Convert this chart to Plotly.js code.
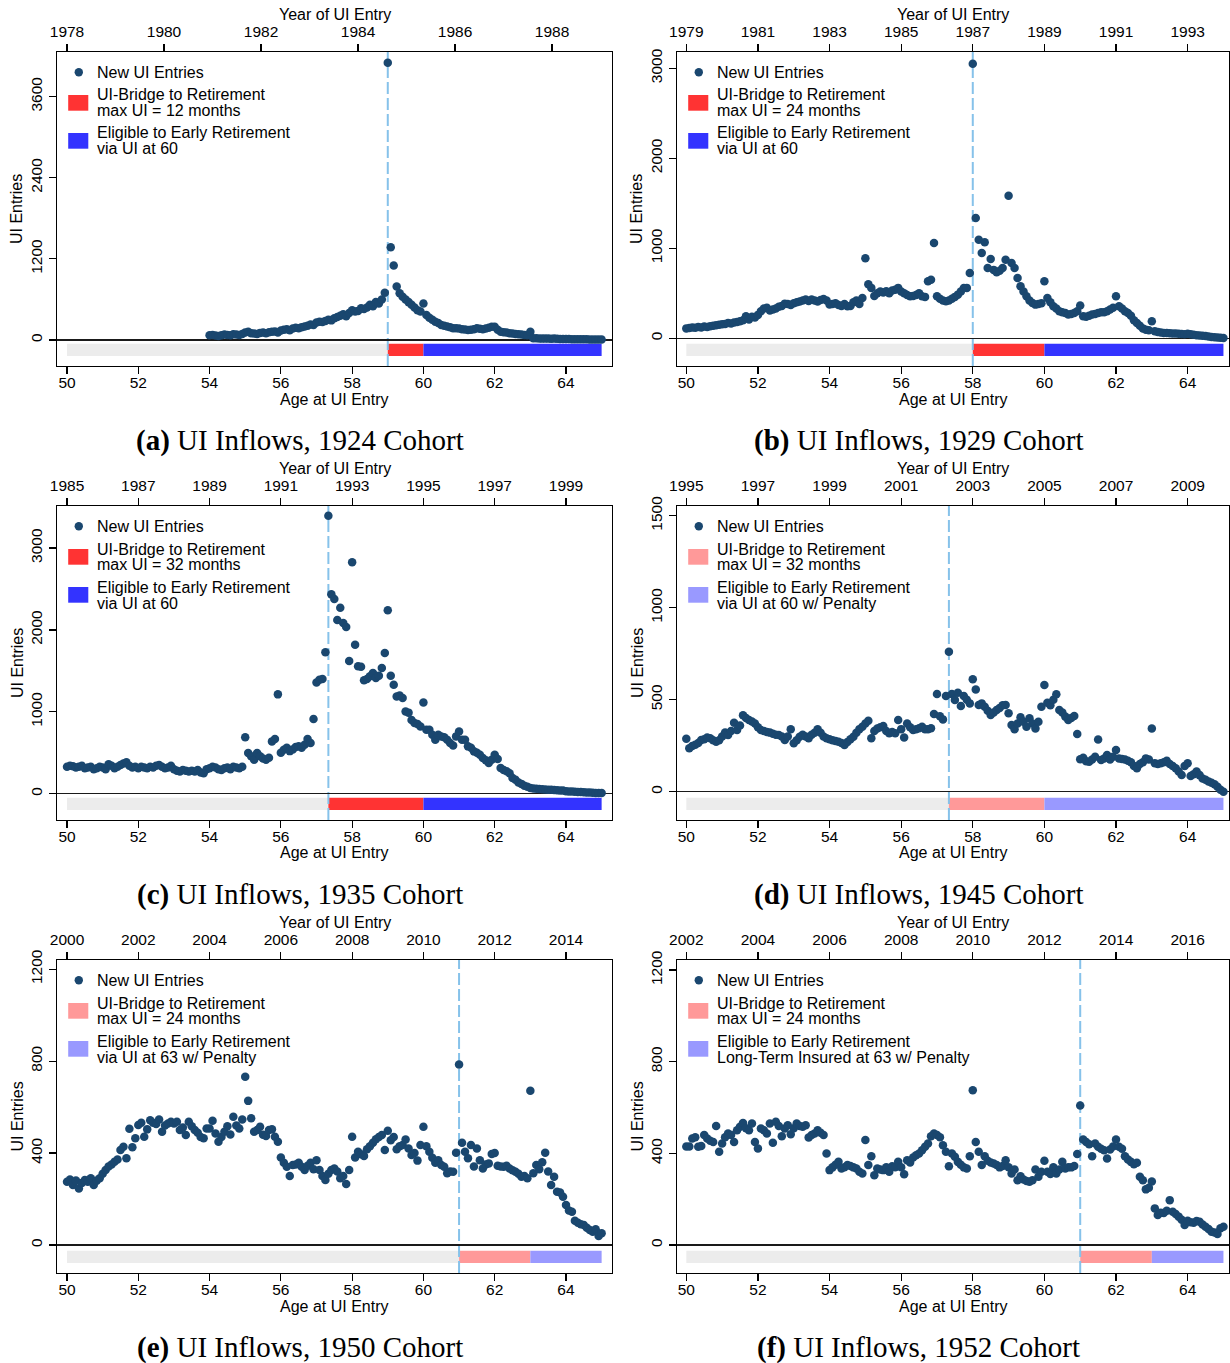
<!DOCTYPE html>
<html>
<head>
<meta charset="utf-8">
<script src="https://cdn.plot.ly/plotly-3.0.1.min.js"></script>
<style>
  html, body { margin: 0; padding: 0; background: #ffffff; }
  #chart { width: 1230px; height: 1363px; }
</style>
</head>
<body>
<div id="chart"></div>
<script>
// Monthly new UI entries by age at entry, one array per birth cohort.
// Each array starts at its cohort's first observed age and steps one month.

const ageStart1924 = 54;
const entries1924 = [
  70, 75, 65, 60, 70, 80, 75, 70, 85, 80, 75, 90,
  110, 120, 100, 95, 90, 105, 110, 100, 115, 120, 125, 110,
  140, 150, 160, 145, 170, 180, 175, 190, 200, 210, 230, 220,
  260, 270, 265, 280, 300, 290, 320, 340, 360, 380, 350, 400,
  440, 420, 430, 470, 460, 480, 520, 500, 560, 540, 600, 700,
  4100, 1370, 1100, 790, 690, 640, 600, 560, 520, 480, 440, 420,
  540, 370, 330, 300, 271, 250, 222, 210, 200, 190, 173, 175,
  170, 160, 155, 148, 150, 160, 173, 165, 160, 170, 180, 197,
  197, 150, 123, 115, 110, 100, 95, 90, 84, 80, 75, 70,
  123, 25, 25, 22, 20, 22, 20, 18, 20, 18, 15, 15,
  15, 14, 12, 12, 12, 10, 10, 10, 8, 8, 8, 8,
  8
];

const ageStart1929 = 50;
const entries1929 = [
  110, 115, 120, 118, 125, 120, 130, 125, 135, 140, 145, 150,
  155, 160, 170, 165, 175, 180, 190, 200, 244, 210, 240, 230,
  260, 300, 330, 340, 310, 320, 330, 350, 360, 385, 380, 370,
  390, 400, 410, 420, 430, 415, 430, 420, 410, 425, 437, 420,
  375, 380, 390, 370, 360, 380, 355, 360, 400, 420, 380, 448,
  890, 600, 560, 470, 500, 520, 510, 522, 500, 530, 540, 560,
  520, 500, 480, 466, 470, 480, 500, 466, 460, 633, 651, 1058,
  466, 440, 420, 411, 420, 440, 460, 485, 520, 559, 560, 725,
  3050, 1336, 1095, 947, 1066, 780, 880, 760, 733, 750, 780, 873,
  1584, 836, 780, 670, 577, 520, 466, 420, 392, 374, 380, 390,
  633, 448, 400, 355, 330, 300, 290, 280, 263, 270, 280, 300,
  363, 244, 240, 250, 263, 270, 280, 289, 290, 300, 320, 340,
  466, 355, 330, 300, 281, 250, 200, 170, 140, 110, 96, 90,
  189, 78, 70, 65, 60, 59, 55, 52, 52, 50, 48, 45,
  50, 45, 40, 35, 30, 28, 25, 20, 15, 12, 8, 5,
  3
];

const ageStart1935 = 50;
const entries1935 = [
  330, 340, 335, 320, 330, 340, 310, 320, 330, 300, 310, 330,
  320, 300, 360, 340, 310, 330, 350, 370, 383, 340, 320, 330,
  310, 330, 320, 310, 330, 320, 340, 350, 330, 310, 320, 340,
  300, 280, 270, 290, 280, 270, 280, 270, 290, 260, 250, 300,
  310, 330, 320, 300, 290, 310, 320, 300, 330, 320, 310, 330,
  690, 497, 456, 415, 497, 456, 430, 415, 440, 639, 667, 1213,
  500, 537, 560, 520, 540, 570, 578, 560, 598, 667, 619, 912,
  1359, 1392, 1400, 1726, 3394, 2434, 2377, 2120, 2271, 2084, 2035, 1620,
  2825, 1819, 1555, 1550, 1384, 1400, 1433, 1473, 1412, 1440, 1534, 1718,
  2239, 1441, 1331, 1188, 1200, 1168, 1005, 990, 900, 863, 850, 822,
  1115, 781, 780, 720, 659, 720, 700, 690, 659, 619, 590, 700,
  761, 659, 660, 578, 560, 517, 500, 476, 435, 410, 374, 415,
  476, 423, 313, 290, 273, 250, 191, 170, 138, 120, 98, 85,
  69, 65, 60, 57, 55, 52, 49, 47, 45, 42, 40, 38,
  30, 28, 26, 24, 22, 20, 18, 16, 14, 12, 10, 9,
  8
];

const ageStart1945 = 50;
const entries1945 = [
  288, 236, 248, 255, 265, 281, 285, 295, 290, 280, 272, 280,
  300, 321, 308, 330, 375, 335, 360, 415, 400, 390, 381, 370,
  350, 335, 330, 325, 321, 315, 310, 308, 300, 281, 300, 339,
  263, 280, 299, 310, 300, 290, 310, 320, 339, 320, 300, 290,
  285, 280, 275, 272, 265, 254, 270, 285, 299, 320, 340, 353,
  370, 386, 290, 330, 344, 350, 357, 330, 317, 325, 317, 390,
  340, 295, 371, 350, 335, 340, 345, 353, 340, 339, 345, 422,
  531, 410, 393, 520, 761, 531, 498, 538, 466, 520, 500, 480,
  611, 556, 471, 480, 462, 440, 417, 430, 444, 455, 470, 471,
  426, 362, 339, 370, 404, 380, 353, 399, 370, 344, 380, 462,
  580, 484, 470, 500, 529, 444, 430, 408, 390, 400, 411, 313,
  176, 185, 165, 163, 175, 190, 284, 172, 180, 199, 175, 190,
  226, 181, 178, 175, 168, 160, 140, 127, 150, 160, 181, 175,
  344, 154, 150, 154, 160, 168, 150, 140, 127, 110, 91, 140,
  154, 85, 95, 109, 90, 72, 65, 55, 49, 40, 27, 10,
  0
];

const ageStart1950 = 50;
const entries1950 = [
  275, 285, 261, 280, 246, 270, 283, 275, 290, 261, 280, 290,
  310, 326, 341, 350, 362, 372, 413, 427, 377, 506, 425, 464,
  522, 532, 471, 503, 543, 532, 526, 546, 493, 520, 529, 536,
  529, 536, 500, 511, 478, 536, 517, 500, 488, 470, 464, 507,
  507, 541, 485, 449, 470, 493, 517, 481, 558, 520, 507, 546,
  732, 627, 551, 493, 500, 514, 480, 474, 500, 503, 471, 449,
  381, 358, 340, 300, 348, 350, 358, 340, 326, 345, 358, 329,
  369, 326, 300, 283, 310, 326, 333, 320, 290, 300, 265, 326,
  471, 381, 406, 395, 387, 416, 430, 445, 460, 470, 478, 413,
  497, 456, 470, 416, 430, 435, 459, 420, 391, 400, 367, 435,
  514, 430, 406, 380, 358, 369, 348, 340, 312, 320, 319, 401,
  785, 445, 406, 377, 435, 341, 420, 369, 333, 350, 355, 396,
  400, 345, 341, 340, 345, 333, 325, 319, 310, 297, 300, 290,
  671, 312, 348, 330, 360, 401, 320, 261, 297, 232, 228, 210,
  174, 150, 145, 105, 97, 90, 87, 75, 65, 58, 68, 39,
  51
];

const ageStart1952 = 50;
const entries1952 = [
  430, 430, 465, 470, 429, 432, 480, 465, 455, 450, 520, 407,
  443, 470, 487, 480, 450, 501, 516, 533, 510, 501, 530, 450,
  421, 509, 501, 487, 530, 446, 538, 520, 475, 509, 523, 484,
  510, 530, 520, 516, 523, 469, 480, 487, 501, 490, 480, 400,
  327, 339, 350, 363, 334, 340, 349, 345, 339, 334, 320, 312,
  458, 349, 388, 305, 334, 330, 327, 339, 320, 344, 340, 363,
  340, 309, 370, 360, 382, 392, 400, 414, 429, 443, 475, 487,
  480, 470, 436, 407, 344, 400, 385, 363, 350, 339, 334, 388,
  676, 450, 407, 349, 388, 368, 360, 356, 349, 339, 345, 370,
  340, 312, 330, 283, 300, 286, 280, 276, 283, 330, 298, 320,
  368, 320, 310, 339, 312, 330, 363, 334, 340, 339, 345, 397,
  609, 461, 450, 440, 388, 443, 429, 420, 414, 378, 417, 430,
  461, 429, 420, 388, 373, 363, 353, 359, 298, 283, 243, 250,
  277, 160, 131, 141, 140, 150, 196, 145, 135, 124, 110, 87,
  106, 100, 97, 105, 102, 90, 80, 70, 58, 55, 48, 73,
  80
];

// Institutional regime by cohort: age where the UI bridge starts,
// age where early retirement becomes available, and the last age shown.
const bridgeStartAge = [59, 58, 57 + 4 / 12, 57 + 4 / 12, 61, 61];
const retireAge = [60, 60, 60, 60, 63, 63];
const firstAge = 50;
const lastAge = 65;

// Tick labels
const ageTicks = [50, 52, 54, 56, 58, 60, 62, 64];
const yearTicks1924 = [1978, 1980, 1982, 1984, 1986, 1988];
const yearTicks1929 = [1979, 1981, 1983, 1985, 1987, 1989, 1991, 1993];
const yearTicks1935 = [1985, 1987, 1989, 1991, 1993, 1995, 1997, 1999];
const yearTicks1945 = [1995, 1997, 1999, 2001, 2003, 2005, 2007, 2009];
const yearTicks1950 = [2000, 2002, 2004, 2006, 2008, 2010, 2012, 2014];
const yearTicks1952 = [2002, 2004, 2006, 2008, 2010, 2012, 2014, 2016];
const countTicks1924 = [0, 1200, 2400, 3600];
const countTicks1929 = [0, 1000, 2000, 3000];
const countTicks1935 = [0, 1000, 2000, 3000];
const countTicks1945 = [0, 500, 1000, 1500];
const countTicks1950 = [0, 400, 800, 1200];
const countTicks1952 = [0, 400, 800, 1200];

// Legend wording
const bridgeMonths = ['12', '24', '32', '32', '24', '24'];
const eligibleLine2 = ['via UI at 60', 'via UI at 60', 'via UI at 60',
  'via UI at 60 w/ Penalty', 'via UI at 63 w/ Penalty', 'Long-Term Insured at 63 w/ Penalty'];
const panelLetters = ['a', 'b', 'c', 'd', 'e', 'f'];
const cohortYears = ['1924', '1929', '1935', '1945', '1950', '1952'];

// ---------------------------------------------------------------- layout
const W = 1230, H = 1363;
const fx = v => v / W;          // pixel x -> paper
const fy = v => 1 - v / H;      // pixel y -> paper

const SANS = 'Liberation Sans, Arial, Helvetica, sans-serif';
const SERIF = 'Liberation Serif, Times New Roman, Times, serif';
const DOT = '#1a476f';
const GREY_BAND = '#ececec';
const DASH_BLUE = '#86c2ea';
const strongColours = { bridge: '#ff3333', retire: '#3333ff' };
const lightColours = { bridge: '#ff9999', retire: '#9999ff' };

const columns = [{ L: 57, R: 612 }, { L: 677, R: 1229 }];
const rowsPx = [{ T: 52, B: 366 }, { T: 506, B: 820 }, { T: 960, B: 1273 }];

const panels = [
  { starts: ageStart1924, values: entries1924, col: 0, row: 0,
    xr: [49.719, 65.291], yr: [-385, 4260], yTicks: countTicks1924,
    topRange: [1977.794, 1989.237], topTicks: yearTicks1924, colours: strongColours },
  { starts: ageStart1929, values: entries1929, col: 1, row: 0,
    xr: [49.740, 65.155], yr: [-308, 3181], yTicks: countTicks1929,
    topRange: [1978.740, 1994.155], topTicks: yearTicks1929, colours: strongColours },
  { starts: ageStart1935, values: entries1935, col: 0, row: 1,
    xr: [49.719, 65.291], yr: [-321, 3513], yTicks: countTicks1935,
    topRange: [1984.719, 2000.291], topTicks: yearTicks1935, colours: strongColours },
  { starts: ageStart1945, values: entries1945, col: 1, row: 1,
    xr: [49.740, 65.155], yr: [-154, 1553], yTicks: countTicks1945,
    topRange: [1994.740, 2010.155], topTicks: yearTicks1945, colours: lightColours },
  { starts: ageStart1950, values: entries1950, col: 0, row: 2,
    xr: [49.719, 65.291], yr: [-122, 1240], yTicks: countTicks1950,
    topRange: [1999.719, 2015.291], topTicks: yearTicks1950, colours: lightColours },
  { starts: ageStart1952, values: entries1952, col: 1, row: 2,
    xr: [49.740, 65.155], yr: [-122, 1244], yTicks: countTicks1952,
    topRange: [2001.740, 2017.155], topTicks: yearTicks1952, colours: lightColours }
];

const data = [];
const layout = {
  width: W, height: H,
  margin: { l: 0, r: 0, t: 0, b: 0, pad: 0, autoexpand: false },
  paper_bgcolor: '#ffffff', plot_bgcolor: '#ffffff',
  showlegend: false,
  font: { family: SANS, size: 16, color: '#000000' },
  shapes: [], annotations: []
};

const tickFont = { family: SANS, size: 15.5, color: '#000000' };
const legendFont = { family: SANS, size: 16, color: '#000000' };

panels.forEach((p, i) => {
  const bx = 2 * i + 1, tx = 2 * i + 2, yy = i + 1;
  const xId = bx === 1 ? 'x' : 'x' + bx;
  const tId = 'x' + tx;
  const yId = yy === 1 ? 'y' : 'y' + yy;
  const xKey = bx === 1 ? 'xaxis' : 'xaxis' + bx;
  const tKey = 'xaxis' + tx;
  const yKey = yy === 1 ? 'yaxis' : 'yaxis' + yy;

  const c = columns[p.col], r = rowsPx[p.row];
  const xDom = [fx(c.L), fx(c.R)];
  const yDom = [fy(r.B), fy(r.T)];

  // monthly age grid for this cohort
  const ages = p.values.map((_, k) => p.starts + k / 12);

  data.push({
    type: 'scatter', mode: 'markers', x: ages, y: p.values,
    xaxis: xId, yaxis: yId, cliponaxis: false,
    marker: { color: DOT, size: 8.5, line: { width: 0 } },
    hoverinfo: 'x+y'
  });
  // carrier trace so the calendar-year axis on top is drawn
  data.push({ type: 'scatter', mode: 'markers', x: [], y: [], xaxis: tId, yaxis: yId, hoverinfo: 'skip' });

  layout[xKey] = {
    domain: xDom, anchor: yId, range: p.xr, fixedrange: true,
    tickmode: 'array', tickvals: ageTicks, ticktext: ageTicks.map(String),
    ticks: 'outside', ticklen: 7, tickwidth: 1.2, tickcolor: '#000',
    ticklabelstandoff: -5,
    showline: true, linecolor: '#000', linewidth: 1.4, mirror: false,
    showgrid: false, zeroline: false, tickfont: tickFont
  };
  layout[tKey] = {
    overlaying: xId, side: 'top', anchor: yId, range: p.topRange, fixedrange: true,
    tickmode: 'array', tickvals: p.topTicks, ticktext: p.topTicks.map(String),
    ticks: 'outside', ticklen: 7, tickwidth: 1.2, tickcolor: '#000',
    showline: true, linecolor: '#000', linewidth: 1.4,
    showgrid: false, zeroline: false, tickfont: tickFont
  };
  layout[yKey] = {
    domain: yDom, anchor: xId, range: p.yr, fixedrange: true,
    tickmode: 'array', tickvals: p.yTicks, ticktext: p.yTicks.map(String),
    tickangle: -90,
    ticks: 'outside', ticklen: 7, tickwidth: 1.2, tickcolor: '#000',
    showline: true, linecolor: '#000', linewidth: 1.4, mirror: true,
    showgrid: false, zeroline: true, zerolinecolor: '#1a1a1a', zerolinewidth: 1.4,
    tickfont: tickFont
  };

  // regime bars under the zero line
  const yDomRef = yId + ' domain';
  const band = (x0, x1, col) => ({
    type: 'rect', xref: xId, yref: yDomRef, x0: x0, x1: x1, y0: 0.032, y1: 0.071,
    fillcolor: col, line: { width: 0 }, layer: 'below'
  });
  layout.shapes.push(band(firstAge, bridgeStartAge[i], GREY_BAND));
  layout.shapes.push(band(bridgeStartAge[i], retireAge[i], p.colours.bridge));
  layout.shapes.push(band(retireAge[i], lastAge, p.colours.retire));

  // start of the UI bridge
  layout.shapes.push({
    type: 'line', xref: xId, yref: yDomRef,
    x0: bridgeStartAge[i], x1: bridgeStartAge[i], y0: 0, y1: 1,
    line: { color: DASH_BLUE, width: 2, dash: '12px,4px' }, layer: 'below'
  });

  // legend block, top-left inside the frame
  const L = c.L, T = r.T;
  layout.shapes.push({
    type: 'circle', xref: 'paper', yref: 'paper',
    x0: fx(L + 21.8 - 4.2), x1: fx(L + 21.8 + 4.2),
    y0: fy(T + 20.3 + 4.2), y1: fy(T + 20.3 - 4.2),
    fillcolor: DOT, line: { width: 0 }
  });
  const swatch = (top, col) => ({
    type: 'rect', xref: 'paper', yref: 'paper',
    x0: fx(L + 11.2), x1: fx(L + 31.3), y0: fy(top + 15.7), y1: fy(top),
    fillcolor: col, line: { width: 0 }
  });
  layout.shapes.push(swatch(T + 43, p.colours.bridge));
  layout.shapes.push(swatch(T + 81, p.colours.retire));

  const legendText = (txt, yPx) => ({
    xref: 'paper', yref: 'paper', x: fx(L + 38), y: fy(yPx),
    xanchor: 'left', yanchor: 'middle', showarrow: false,
    text: txt, font: legendFont
  });
  layout.annotations.push(legendText('New UI Entries', T + 20.3));
  layout.annotations.push(legendText('UI-Bridge to Retirement', T + 43));
  layout.annotations.push(legendText('max UI = ' + bridgeMonths[i] + ' months', T + 58.7));
  layout.annotations.push(legendText('Eligible to Early Retirement', T + 81));
  layout.annotations.push(legendText(eligibleLine2[i], T + 97));

  // axis titles
  const midX = (c.L + c.R) / 2;
  layout.annotations.push({
    xref: 'paper', yref: 'paper', x: fx(midX), y: fy(T - 37.3),
    xanchor: 'center', yanchor: 'middle', showarrow: false,
    text: 'Year of UI Entry', font: legendFont
  });
  layout.annotations.push({
    xref: 'paper', yref: 'paper', x: fx(midX), y: fy(r.B + 33),
    xanchor: 'center', yanchor: 'middle', showarrow: false,
    text: 'Age at UI Entry', font: legendFont
  });
  layout.annotations.push({
    xref: 'paper', yref: 'paper', x: fx(L - 40), y: fy((r.T + r.B) / 2),
    xanchor: 'center', yanchor: 'middle', showarrow: false, textangle: -90,
    text: 'UI Entries', font: legendFont
  });

  // sub-figure caption
  layout.annotations.push({
    xref: 'paper', yref: 'paper', x: fx(midX - 34.5), y: fy(r.B + 74.5),
    xanchor: 'center', yanchor: 'middle', showarrow: false,
    text: '<b>(' + panelLetters[i] + ')</b> UI Inflows, ' + cohortYears[i] + ' Cohort',
    font: { family: SERIF, size: 29, color: '#000000' }
  });
});

Plotly.newPlot('chart', data, layout, { staticPlot: true, displayModeBar: false });
</script>
</body>
</html>
